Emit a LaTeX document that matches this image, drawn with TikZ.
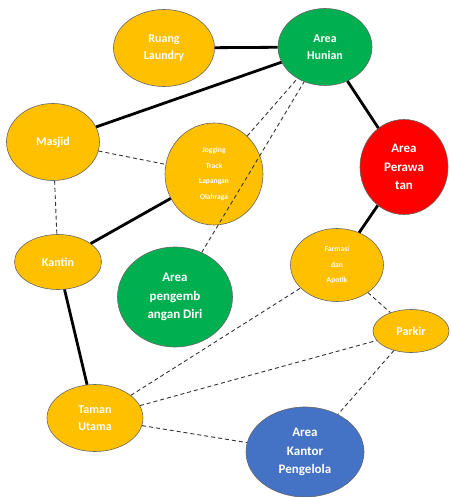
\documentclass[tikz,border=0pt]{standalone}
\usepackage{fontspec}
\setmainfont{Carlito}
\usetikzlibrary{shapes.geometric}
\definecolor{cgold}{HTML}{FFC000}
\definecolor{cgreen}{HTML}{00B050}
\definecolor{cred}{HTML}{FF0000}
\definecolor{cblue}{HTML}{4472C4}
\tikzset{
  x=1pt,y=-1pt,
  area/.style={ellipse, draw=black!60, line width=0.6pt, inner sep=0pt, align=center, text=white, font=\bfseries\fontsize{12}{17}\selectfont},
  gold/.style={area, fill=cgold},
  smalltxt/.style={font=\bfseries\fontsize{7.5}{15.5}\selectfont},
  bigtxt/.style={font=\bfseries\fontsize{13}{18.5}\selectfont},
  strong/.style={line width=2.8pt, black},
  weak/.style={line width=0.9pt, black!80, dash pattern=on 4pt off 3pt},
}
\begin{document}
\begin{tikzpicture}
\useasboundingbox (0,0) rectangle (450,497);
\node[gold, minimum width=101pt, minimum height=77pt] (laundry) at (164,48) {Ruang\\Laundry};
\node[area, fill=cgreen, minimum width=94pt, minimum height=77pt] (hunian) at (325,47) {Area\\Hunian};
\node[gold, minimum width=93pt, minimum height=77pt] (masjid) at (53,142) {Masjid};
\node[gold, smalltxt, minimum width=98pt, minimum height=102pt] (jogging) at (214,174) {Jogging\\Track\\Lapangan\\Olahraga};
\node[area, fill=cred, bigtxt, minimum width=88pt, minimum height=95pt] (perawatan) at (404,167) {Area\\Perawa\\tan};
\node[gold, minimum width=87pt, minimum height=55pt] (kantin) at (58,262) {Kantin};
\node[area, fill=cgreen, bigtxt, minimum width=115pt, minimum height=100pt] (diri) at (175,297) {Area\\pengemb\\angan Diri};
\node[gold, smalltxt, minimum width=93pt, minimum height=73pt] (farmasi) at (337,265) {Farmasi\\dan\\Apotik};
\node[gold, minimum width=76pt, minimum height=43pt] (parkir) at (411,331) {Parkir};
\node[gold, minimum width=96pt, minimum height=67pt] (taman) at (95,418) {Taman\\Utama};
\node[area, fill=cblue, bigtxt, minimum width=118pt, minimum height=90pt] (kantor) at (305,452) {Area\\Kantor\\Pengelola};

\draw[strong] (laundry) -- (hunian);
\draw[strong] (masjid) -- (hunian);
\draw[strong] (hunian) -- (perawatan);
\draw[strong] (perawatan) -- (farmasi);
\draw[strong] (jogging) -- (kantin);
\draw[strong] (kantin) -- (taman);
\draw[weak] (masjid) -- (jogging);
\draw[weak] (masjid) -- (kantin);
\draw[weak] (jogging) -- (hunian);
\draw[weak] (diri) -- (hunian);
\draw[weak] (taman) -- (farmasi);
\draw[weak] (taman) -- (parkir);
\draw[weak] (taman) -- (kantor);
\draw[weak] (farmasi) -- (parkir);
\draw[weak] (parkir) -- (kantor);
\end{tikzpicture}
\end{document}
